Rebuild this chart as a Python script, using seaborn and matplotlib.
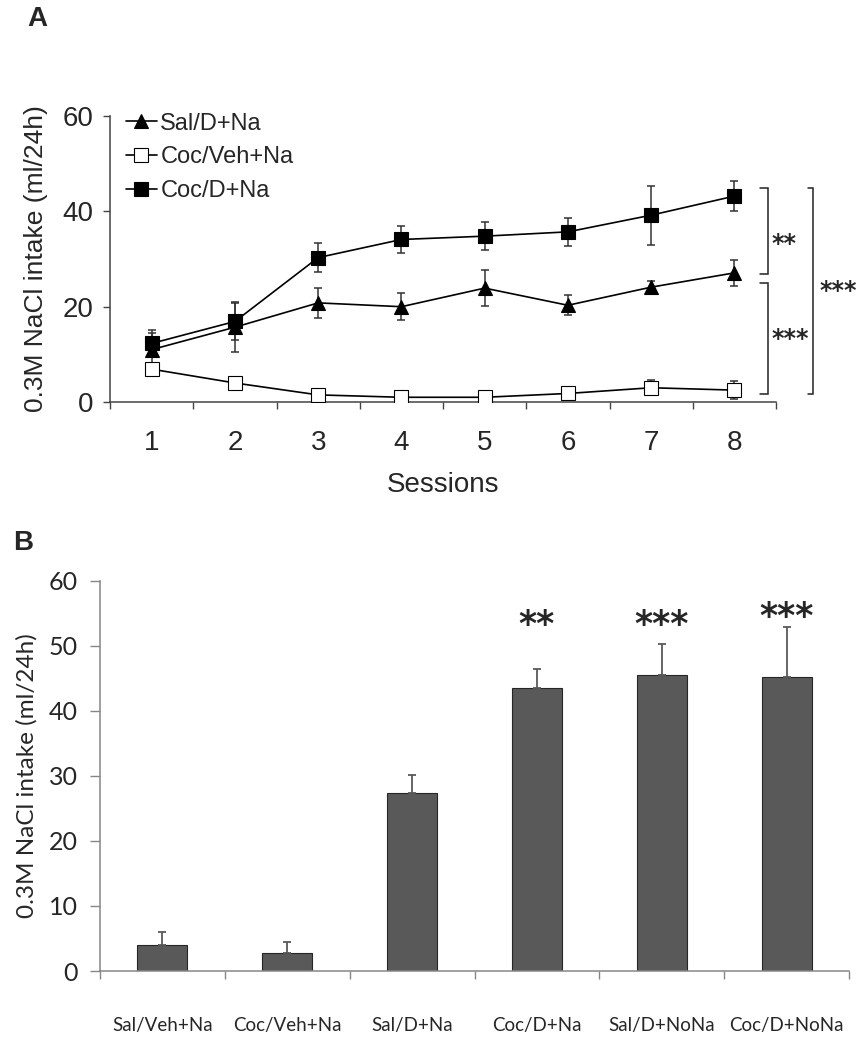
import matplotlib
matplotlib.use('Agg')
import matplotlib.pyplot as plt
import numpy as np
import pandas as pd
import seaborn as sns

sns.set_style('ticks')
plt.rcParams['font.family'] = ['Liberation Sans', 'DejaVu Sans']

# Panel A: intake per session
sessions = [1, 2, 3, 4, 5, 6, 7, 8]
sal_d_na = [11.0, 15.7, 20.8, 20.0, 23.9, 20.3, 24.1, 27.1]
sal_d_na_err = [3.5, 5.3, 3.2, 2.8, 3.8, 2.1, 1.2, 2.8]
coc_veh_na = [6.9, 4.0, 1.5, 1.0, 1.0, 1.8, 3.0, 2.5]
coc_veh_na_err = [1.3, 0.8, 0.5, 0.4, 0.4, 0.6, 1.6, 1.9]
coc_d_na = [12.3, 16.9, 30.3, 34.1, 34.8, 35.7, 39.2, 43.2]
coc_d_na_err = [2.8, 3.9, 3.1, 2.9, 2.9, 3.0, 6.2, 3.1]

# Panel B: mean intake per group
groups = ['Sal/Veh+Na', 'Coc/Veh+Na', 'Sal/D+Na', 'Coc/D+Na', 'Sal/D+NoNa', 'Coc/D+NoNa']
group_means = [4.0, 2.7, 27.4, 43.5, 45.5, 45.2]
group_err = [2.0, 1.7, 2.8, 3.0, 4.8, 7.7]
group_stars = ['', '', '', '**', '***', '***']

fig = plt.figure(figsize=(8.59, 10.5), dpi=100)

# ---------------- Panel A ----------------
ax = fig.add_axes([0.1281, 0.6171, 0.7753, 0.2724])
series = [
    ('Sal/D+Na', sal_d_na, sal_d_na_err, '^', 'black'),
    ('Coc/Veh+Na', coc_veh_na, coc_veh_na_err, 's', 'white'),
    ('Coc/D+Na', coc_d_na, coc_d_na_err, 's', 'black'),
]
for name, vals, errs, mk, fc in series:
    ax.errorbar(sessions, vals, yerr=errs, fmt='none', ecolor='#333333',
                elinewidth=1.1, capsize=3, capthick=1.1, zorder=2)
    sns.lineplot(x=sessions, y=vals, ax=ax, color='black', linewidth=1.2,
                 marker=mk, markersize=10, markerfacecolor=fc,
                 markeredgecolor='black', markeredgewidth=0.8,
                 label=name, zorder=3)

ax.set_xlim(0.5, 8.5)
ax.set_ylim(0, 60)
ax.set_yticks([0, 20, 40, 60])
ax.set_xticks(sessions)
ax.set_xticks(np.arange(0.5, 9.0, 1.0), minor=True)
ax.tick_params(axis='x', which='major', length=0, pad=20, labelsize=20)
ax.tick_params(axis='x', which='minor', length=5, width=1, color='#444444')
ax.tick_params(axis='y', length=5, width=1, pad=7, labelsize=20, color='#444444')
for s in ['top', 'right']:
    ax.spines[s].set_visible(False)
for s in ['left', 'bottom']:
    ax.spines[s].set_color('#444444')
    ax.spines[s].set_linewidth(1.1)
ax.set_xlabel('Sessions', fontsize=20, labelpad=12)
ax.set_ylabel('0.3M NaCl intake (ml/24h)', fontsize=19, labelpad=10)
ax.legend(loc='upper left', bbox_to_anchor=(0.01, 1.045), frameon=False,
          fontsize=17, handlelength=1.3, handletextpad=0.15, labelspacing=0.5,
          borderaxespad=0)

# significance brackets
def bracket(x0, x1, y0, y1):
    ax.plot([x0, x1, x1, x0], [y0, y0, y1, y1], color='#222222', lw=1.1,
            clip_on=False, solid_joinstyle='miter')

bracket(8.31, 8.40, 45.0, 26.8)
bracket(8.31, 8.40, 25.0, 1.7)
bracket(8.88, 8.94, 45.0, 1.7)
star_font = ['DejaVu Sans']
ax.text(8.44, 31.7, '**', fontsize=17, fontweight='bold', va='baseline',
        ha='left', family=star_font)
ax.text(8.44, 11.8, '***', fontsize=17, fontweight='bold', va='baseline',
        ha='left', family=star_font)
ax.text(9.02, 21.8, '***', fontsize=17, fontweight='bold', va='baseline',
        ha='left', family=star_font)

fig.text(27 / 859, 1 - 19 / 1050, 'A', fontsize=20, fontweight='bold',
         va='center', ha='left')

# ---------------- Panel B ----------------
calibri = ['Lato', 'DejaVu Sans']
bx = fig.add_axes([0.1164, 0.0752, 0.8720, 0.3717])
df_b = pd.DataFrame({'group': groups, 'intake': group_means})
sns.barplot(data=df_b, x='group', y='intake', ax=bx, color='#595959',
            saturation=1, width=0.4, edgecolor='#262626', linewidth=0.8)
xpos = np.arange(len(groups))
bx.errorbar(xpos, group_means, yerr=[np.zeros(len(groups)), group_err],
            fmt='none', ecolor='#595959', elinewidth=1.3, capsize=3, capthick=1.3)
for x, m, e, st in zip(xpos, group_means, group_err, group_stars):
    if st:
        bx.text(x, max(51.6, m + e), st, fontsize=25, fontweight='bold',
                ha='center', va='baseline', family=star_font)

bx.set_xlim(-0.5, 5.5)
bx.set_ylim(0, 60)
bx.set_yticks(range(0, 61, 10))
bx.set_xticks(np.arange(-0.5, 6.0, 1.0), minor=True)
bx.tick_params(axis='x', which='major', length=0, pad=33)
bx.tick_params(axis='x', which='minor', length=6, width=1, color='#868686')
bx.tick_params(axis='y', length=7, width=1, pad=9, color='#868686')
for lab in bx.get_xticklabels():
    lab.set_family(calibri)
    lab.set_fontsize(13.5)
for lab in bx.get_yticklabels():
    lab.set_family(calibri)
    lab.set_fontsize(18)
for s in ['top', 'right']:
    bx.spines[s].set_visible(False)
for s in ['left', 'bottom']:
    bx.spines[s].set_color('#868686')
    bx.spines[s].set_linewidth(1.1)
bx.set_xlabel('')
bx.set_ylabel('0.3M NaCl intake (ml/24h)', fontsize=17.5, family=calibri, labelpad=8)

fig.text(13 / 859, 1 - 543 / 1050, 'B', fontsize=20, fontweight='bold',
         va='center', ha='left')

fig.savefig('out.png', dpi=100)
